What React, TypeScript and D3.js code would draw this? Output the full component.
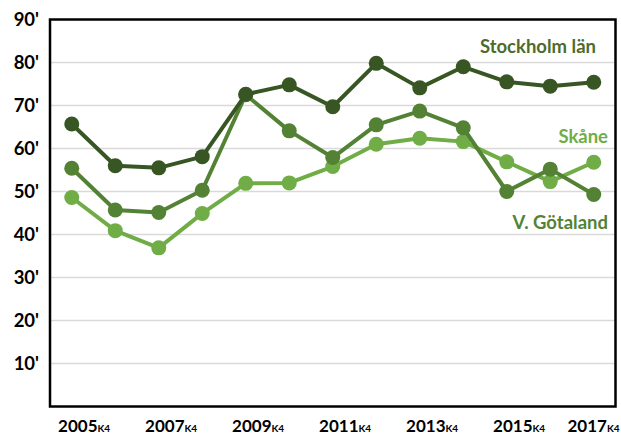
import React from "react";
import * as d3 from "d3";

const years = ["2005","2006","2007","2008","2009","2010","2011","2012","2013","2014","2015","2016","2017"];
const tickYears = ["2005","2007","2009","2011","2013","2015","2017"];
const stockholm = [65.7, 56.0, 55.5, 58.1, 72.6, 74.8, 69.7, 79.8, 74.1, 79.0, 75.5, 74.5, 75.4];
const vGotaland = [55.4, 45.7, 45.1, 50.3, 72.5, 64.1, 57.9, 65.5, 68.7, 64.8, 50.0, 55.2, 49.3];
const skane = [48.6, 40.9, 36.9, 44.9, 51.9, 52.0, 55.8, 61.0, 62.4, 61.6, 56.9, 52.3, 56.8];
const yTicks = [10, 20, 30, 40, 50, 60, 70, 80, 90];

const W = 621, H = 434;
const plot = { left: 50, right: 615.5, top: 19.5, bottom: 406.5 };
const FONT = "Lato, 'Open Sans', sans-serif";

const seriesList = [
  { name: "Stockholm län", values: stockholm, color: "#375623", labelColor: "#4E6B2C", lx: 596, ly: 53 },
  { name: "Skåne", values: skane, color: "#70AD47", labelColor: "#70AD47", lx: 608, ly: 143 },
  { name: "V. Götaland", values: vGotaland, color: "#548235", labelColor: "#548235", lx: 608, ly: 229 },
];

export default function App() {
  const x = d3.scaleBand<string>().domain(years).range([plot.left, plot.right]);
  const cx = (y: string) => (x(y) as number) + x.bandwidth() / 2;
  const y = d3.scaleLinear().domain([0, 90]).range([plot.bottom, plot.top]);
  const line = d3.line<number>().x((_, i) => cx(years[i])).y((d) => y(d));
  const order = [seriesList[1], seriesList[2], seriesList[0]];

  return (
    <svg width={W} height={H} style={{ position: "absolute", left: 0, top: 0, background: "#fff" }} fontFamily={FONT}>
      {yTicks.map((t) => (
        t < 90 ? <line key={"g" + t} x1={plot.left} x2={plot.right} y1={y(t)} y2={y(t)} stroke="#D9D9D9" strokeWidth={1.5} /> : null
      ))}
      {yTicks.map((t) => (
        <text key={"yl" + t} x={39} y={y(t)} dy="0.36em" textAnchor="end" fontSize={18.5} fontWeight={700} fill="#000">{`${t}'`}</text>
      ))}
      {order.map((s) => (
        <g key={s.name}>
          <path d={line(s.values) || ""} fill="none" stroke={s.color} strokeWidth={4} strokeLinejoin="round" />
          {s.values.map((v, i) => (
            <circle key={i} cx={cx(years[i])} cy={y(v)} r={7.5} fill={s.color} />
          ))}
        </g>
      ))}
      <rect x={plot.left} y={plot.top} width={plot.right - plot.left} height={plot.bottom - plot.top} fill="none" stroke="#000" strokeWidth={2.5} />
      {seriesList.map((s) => (
        <text key={"l" + s.name} x={s.lx} y={s.ly} textAnchor="end" fontSize={18.5} fontWeight={700} fill={s.labelColor}>{s.name}</text>
      ))}
      {tickYears.map((t) => {
        const start = Math.min(cx(t) - 13.7, 567.5);
        return (
          <text key={"xl" + t} x={start} y={432} fontSize={17} fontWeight={700} fill="#000">
            {t}
            <tspan fontSize={10}>K4</tspan>
          </text>
        );
      })}
    </svg>
  );
}
